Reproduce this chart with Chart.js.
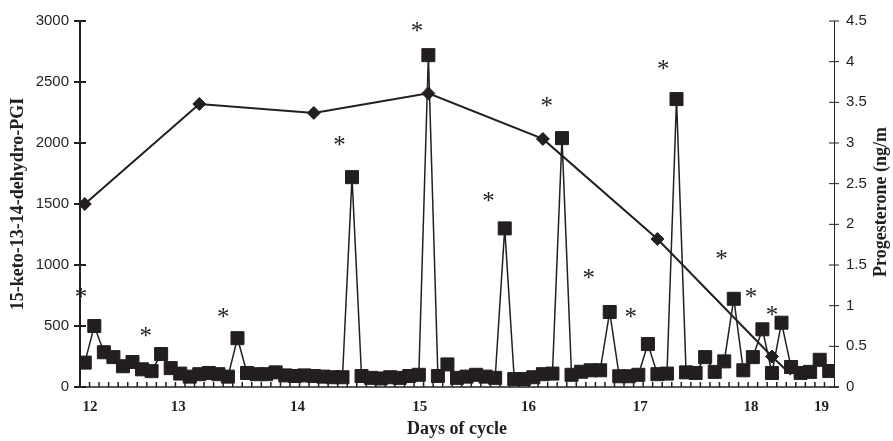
<!DOCTYPE html>
<html>
<head>
<meta charset="utf-8">
<script src="https://cdn.jsdelivr.net/npm/chart.js@4.4.1/dist/chart.umd.min.js"></script>
<style>
  html, body { margin: 0; padding: 0; background: #fff; }
</style>
</head>
<body>
<canvas id="chart" width="893" height="441"></canvas>
<script>
// one value per sample, in sample order (x = sample number)
const pgValues = [
  200, 500, 285, 245, 170, 205, 145, 130, 270, 155,
  110, 85, 105, 115, 105, 85, 400, 115, 105, 105,
  120, 95, 90, 95, 90, 85, 80, 80, 1720, 90,
  75, 70, 80, 75, 90, 100, 2720, 90, 185, 75,
  85, 100, 85, 75, 1300, 65, 65, 80, 105, 110,
  2040, 100, 125, 137, 137, 615, 88, 88, 100, 352,
  105, 110, 2360, 120, 115, 245, 124, 210, 723, 137,
  245, 473, 115, 527, 164, 115, 124, 223, 131
];

// progesterone, one value per day (sample number, ng/ml)
const progIdx = [0, 12, 24, 36, 48, 60, 72, 74];
const progValues = [2.25, 3.48, 3.37, 3.61, 3.05, 1.82, 0.375, 0.15];

// day of cycle labels along the sample axis
const dayPos = [0.55, 9.8, 22.3, 35.1, 46.5, 58.2, 69.8, 77.2];
const dayLabels = ['12', '13', '14', '15', '16', '17', '18', '19'];

// significant pulses (*), sample number and height on the left axis
const starIdx = [-0.4, 6.4, 14.5, 26.7, 34.8, 42.3, 48.4, 52.8, 57.2, 60.6, 66.7, 69.8, 72];
const starValues = [769, 454, 607, 2019, 2954, 1554, 2336, 927, 607, 2643, 1083, 769, 627];

const ink = '#231f20';

// ticks crossing the axes, small sample ticks, stars and right title
const extras = {
  id: 'extras',
  afterDraw(chart) {
    const { ctx, chartArea: a } = chart;
    const { x, y, y1 } = chart.scales;
    ctx.save();
    ctx.strokeStyle = ink;
    ctx.lineWidth = 1.5;
    ctx.beginPath();
    for (let i = 0; i < pgValues.length - 1; i++) {
      const px = x.getPixelForValue(i + 0.5);
      ctx.moveTo(px, a.bottom);
      ctx.lineTo(px, a.bottom - 5);
    }
    ctx.moveTo(a.left - 5, a.bottom);
    ctx.lineTo(a.right + 5, a.bottom);
    ctx.stroke();

    ctx.lineWidth = 2;
    ctx.beginPath();
    y.ticks.forEach(t => {
      const py = y.getPixelForValue(t.value);
      ctx.moveTo(a.left - 6, py);
      ctx.lineTo(a.left + 6, py);
    });
    ctx.stroke();

    ctx.lineWidth = 1;
    ctx.beginPath();
    y1.ticks.forEach(t => {
      const py = y1.getPixelForValue(t.value);
      ctx.moveTo(a.right - 5, py);
      ctx.lineTo(a.right + 5, py);
    });
    ctx.stroke();

    ctx.fillStyle = ink;
    ctx.font = '25px "Liberation Serif"';
    ctx.textAlign = 'center';
    ctx.textBaseline = 'alphabetic';
    starIdx.forEach((s, i) => {
      ctx.fillText('*', x.getPixelForValue(s), y.getPixelForValue(starValues[i]) + 12);
    });

    ctx.translate(881, (a.top + a.bottom) / 2 - 2);
    ctx.rotate(-Math.PI / 2);
    ctx.font = 'bold 18px "Liberation Serif"';
    ctx.textBaseline = 'middle';
    ctx.fillText('Progesterone (ng/m', 0, 0);
    ctx.restore();
  }
};

const ctx = document.getElementById('chart').getContext('2d');
new Chart(ctx, {
  type: 'line',
  data: {
    datasets: [
      {
        label: 'Progesterone',
        data: progIdx.map((d, i) => ({ x: d, y: progValues[i] })),
        yAxisID: 'y1',
        order: 0,
        borderColor: ink,
        backgroundColor: ink,
        borderWidth: 2,
        pointStyle: 'rectRot',
        pointRadius: [6.5, 6.5, 6.5, 6.5, 6.5, 6.5, 6.5, 0],
        pointBorderWidth: 1,
        tension: 0
      },
      {
        label: 'PGI metabolite',
        data: pgValues.map((v, i) => ({ x: i, y: v })),
        yAxisID: 'y',
        order: 1,
        borderColor: ink,
        backgroundColor: ink,
        borderWidth: 1.5,
        pointStyle: 'rect',
        pointRadius: 9.2,
        pointBorderWidth: 1,
        tension: 0
      }
    ]
  },
  options: {
    responsive: false,
    animation: false,
    layout: { padding: { top: 15, left: 0, right: 0, bottom: 0 } },
    plugins: {
      legend: { display: false },
      tooltip: { enabled: false }
    },
    scales: {
      x: {
        type: 'linear',
        min: -0.5,
        max: 78.5,
        afterBuildTicks: s => { s.ticks = dayPos.map(v => ({ value: v })); },
        afterFit: s => { s.height = 54; },
        grid: { display: false, drawTicks: false },
        border: { display: false },
        ticks: {
          autoSkip: false,
          maxRotation: 0,
          padding: 11,
          color: ink,
          font: { family: 'Liberation Serif', size: 15, weight: 'bold' },
          callback: (v, i) => dayLabels[i]
        },
        title: {
          display: true,
          text: 'Days of cycle',
          color: ink,
          font: { family: 'Liberation Serif', size: 18, weight: 'bold' },
          padding: { top: 0, bottom: 1 }
        }
      },
      y: {
        position: 'left',
        min: 0,
        max: 3000,
        afterFit: s => { s.width = 80; },
        grid: { display: false, drawTicks: false },
        border: { display: true, color: ink, width: 2 },
        ticks: {
          stepSize: 500,
          padding: 11,
          color: ink,
          font: { family: 'Liberation Sans', size: 15 },
          callback: v => String(v)
        },
        title: {
          display: true,
          text: '15-keto-13-14-dehydro-PGI',
          color: ink,
          font: { family: 'Liberation Serif', size: 18, weight: 'bold' },
          padding: { top: 8, bottom: 0 }
        }
      },
      y1: {
        position: 'right',
        min: 0,
        max: 4.5,
        afterFit: s => { s.width = 59; },
        grid: { display: false, drawTicks: false },
        border: { display: true, color: ink, width: 1 },
        ticks: {
          stepSize: 0.5,
          padding: 12,
          color: ink,
          font: { family: 'Liberation Sans', size: 15 },
          callback: v => String(Math.round(v * 10) / 10)
        }
      }
    }
  },
  plugins: [extras]
});
</script>
</body>
</html>
